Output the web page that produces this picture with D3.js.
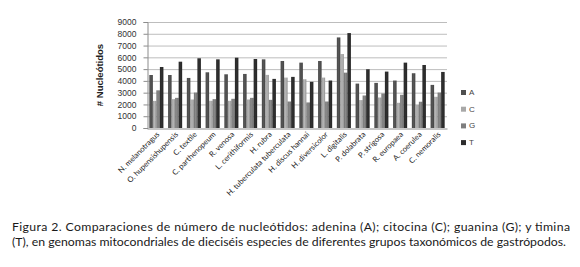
<!DOCTYPE html>
<html>
<head>
<meta charset="utf-8">
<script src="https://cdn.jsdelivr.net/npm/d3@7"></script>
<style>
  body { margin: 0; background: #ffffff; }
</style>
</head>
<body>
<div id="chart"></div>
<script>
// ---------- data ----------
const species = ["N. melanotragus", "O. hupensishupensis", "C. textile", "C. parthenopeum",
    "R. venosa", "L. cerithiformis", "H. rubra", "H. tuberculata tuberculata",
    "H. discus hannai", "H. diversicolor", "L. digitalis", "P. dolabrata",
    "P. strigosa", "R. europaea", "A. coerulea", "C. nemoralis"];
const bases = ["A", "C", "G", "T"];
const valuesA = [4500, 4500, 4250, 4730, 4560, 4590, 5830, 5690, 5550, 5690, 7690, 3770, 3830, 4030, 4650, 3660];
const valuesC = [2300, 2450, 2420, 2310, 2310, 2420, 4510, 4280, 4140, 4280, 6280, 2370, 2590, 2140, 1970, 2650];
const valuesG = [3200, 2560, 3010, 2450, 2480, 2560, 2390, 2250, 2170, 2250, 4700, 2760, 2930, 2820, 2230, 3010];
const valuesT = [5180, 5630, 5920, 5830, 5970, 5860, 4170, 4340, 3920, 4030, 8060, 4990, 4790, 5550, 5350, 4760];
const yTicks = [0, 1000, 2000, 3000, 4000, 5000, 6000, 7000, 8000, 9000];
const caption = [
    "Figura 2. Comparaciones de número de nucleótidos: adenina (A); citocina (C); guanina (G); y timina",
    "(T), en genomas mitocondriales de dieciséis especies de diferentes grupos taxonómicos de gastrópodos."
];

const series = { A: valuesA, C: valuesC, G: valuesG, T: valuesT };
const colors = { A: "#4f4f4f", C: "#a8a8a8", G: "#7e7e7e", T: "#2c2c2c" };

// ---------- layout ----------
const width = 580, height = 267;
const plot = { left: 147, right: 447, top: 22, bottom: 128 };

const svg = d3.select("#chart").append("svg")
    .attr("width", width)
    .attr("height", height);

// gradients (Excel-like shading on bars)
const defs = svg.append("defs");
bases.forEach(b => {
    const c = d3.color(colors[b]);
    const g = defs.append("linearGradient").attr("id", "grad" + b)
        .attr("x1", "0%").attr("x2", "100%").attr("y1", "0%").attr("y2", "0%");
    g.append("stop").attr("offset", "0%").attr("stop-color", c.darker(0.3));
    g.append("stop").attr("offset", "45%").attr("stop-color", c.brighter(0.25));
    g.append("stop").attr("offset", "100%").attr("stop-color", c.darker(0.4));
});

const x0 = d3.scaleBand()
    .domain(species)
    .range([plot.left, plot.right])
    .paddingInner(0.25)
    .paddingOuter(0.125);

const x1 = d3.scaleBand()
    .domain(bases)
    .range([0, x0.bandwidth()]);

const y = d3.scaleLinear()
    .domain([0, 9000])
    .range([plot.bottom, plot.top]);

// gridlines
svg.append("g")
    .selectAll("line")
    .data(yTicks.filter(t => t > 0))
    .join("line")
    .attr("x1", plot.left)
    .attr("x2", plot.right)
    .attr("y1", d => y(d) + 0.5)
    .attr("y2", d => y(d) + 0.5)
    .attr("stroke", "#bdbdbd")
    .attr("stroke-width", 1);

// y axis
const yAxis = svg.append("g")
    .attr("transform", `translate(${plot.left + 0.5},0)`)
    .call(d3.axisLeft(y).tickValues(yTicks).tickSize(4).tickPadding(7).tickFormat(d3.format("d")));
yAxis.select(".domain").attr("stroke", "#8c8c8c");
yAxis.selectAll(".tick line").attr("stroke", "#8c8c8c");
yAxis.selectAll("text")
    .attr("font-family", "'Liberation Sans', Arial, sans-serif")
    .attr("font-size", "8.5px")
    .attr("fill", "#333");

// bars
const groups = svg.append("g")
    .selectAll("g")
    .data(species)
    .join("g")
    .attr("transform", d => `translate(${x0(d)},0)`);

groups.selectAll("rect")
    .data((d, i) => bases.map(b => ({ base: b, value: series[b][i] })))
    .join("rect")
    .attr("x", d => x1(d.base))
    .attr("width", x1.bandwidth())
    .attr("y", d => y(d.value))
    .attr("height", d => y(0) - y(d.value))
    .attr("fill", d => `url(#grad${d.base})`);

// x axis
const xAxis = svg.append("g")
    .attr("transform", `translate(0,${plot.bottom + 0.5})`)
    .call(d3.axisBottom(x0).tickSize(0).tickPadding(4));
xAxis.select(".domain").attr("stroke", "#8c8c8c");
xAxis.selectAll("text")
    .attr("font-family", "Lato, 'Open Sans', sans-serif")
    .attr("font-size", "7.6px")
    .attr("fill", "#222")
    .attr("text-anchor", "end")
    .attr("dy", "0.3em")
    .attr("transform", "translate(-1,2) rotate(-45)");

// y axis title
svg.append("text")
    .attr("transform", `translate(103,${(plot.top + plot.bottom) / 2}) rotate(-90)`)
    .attr("text-anchor", "middle")
    .attr("font-family", "'Liberation Sans', Arial, sans-serif")
    .attr("font-size", "9.5px")
    .attr("font-weight", "bold")
    .attr("fill", "#222")
    .text("# Nucleótidos");

// legend
const legend = svg.append("g")
    .attr("transform", "translate(461,90)");
const legendItems = legend.selectAll("g")
    .data(bases)
    .join("g")
    .attr("transform", (d, i) => `translate(0,${i * 16.7})`);
legendItems.append("rect")
    .attr("width", 5).attr("height", 5)
    .attr("fill", d => colors[d]);
legendItems.append("text")
    .attr("x", 8).attr("y", 5)
    .attr("font-family", "'Liberation Sans', Arial, sans-serif")
    .attr("font-size", "8px")
    .attr("fill", "#444")
    .text(d => d);

// caption: fit each line to its printed width
const capWidths = [558, 554];
const capLines = svg.append("g")
    .selectAll("text")
    .data(caption)
    .join("text")
    .attr("x", 12)
    .attr("y", (d, i) => 231 + i * 15)
    .attr("font-family", "Lato, 'Open Sans', sans-serif")
    .attr("font-size", "12px")
    .attr("fill", "#1a1a1a")
    .text(d => d);
const scaleFit = d3.min(capLines.nodes(), (n, i) => capWidths[i] / n.getComputedTextLength());
capLines.attr("font-size", (12 * scaleFit).toFixed(2) + "px")
    .attr("textLength", (d, i) => capWidths[i])
    .attr("lengthAdjust", "spacing");
</script>
</body>
</html>
